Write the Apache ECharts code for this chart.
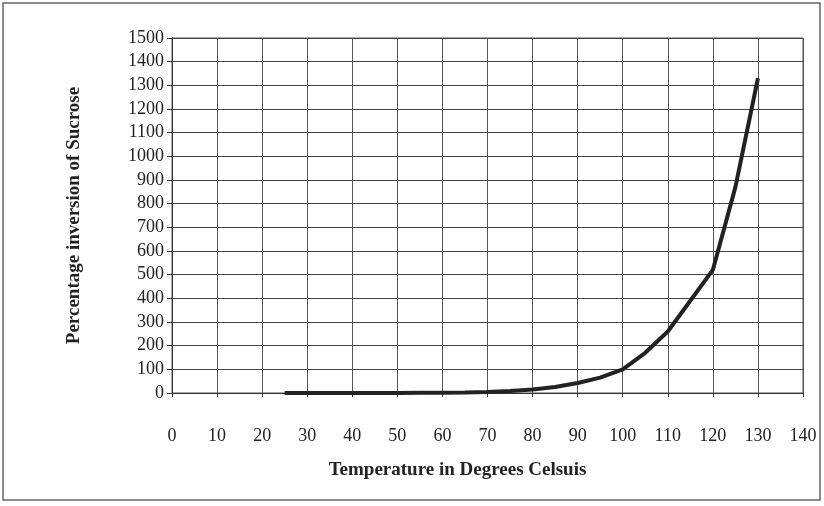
<!DOCTYPE html>
<html>
<head>
<meta charset="utf-8">
<script src="https://cdn.jsdelivr.net/npm/echarts@6/dist/echarts.min.js"></script>
<style>
  html, body { margin: 0; padding: 0; background: #fff; }
  #chart { width: 824px; height: 506px; }
</style>
</head>
<body>
<div id="chart"></div>
<script>
// temperature (deg C) and percentage inversion
const temps = [25, 30, 35, 40, 45, 50, 55, 60, 65, 70, 75, 80, 85, 90, 95, 100, 105, 110, 115, 120, 125, 130];
const inversion = [0, 0, 0, 0, 0, 0.5, 1, 1.5, 2.5, 4, 8, 15, 25, 42, 65, 100, 170, 260, 390, 520, 870, 1330];

const chart = echarts.init(document.getElementById('chart'));
const serif = 'Liberation Serif';

chart.setOption({
  animation: false,
  backgroundColor: '#fff',
  graphic: [{
    type: 'rect',
    shape: { x: 3, y: 3, width: 817, height: 497 },
    style: { fill: 'none', stroke: '#666', lineWidth: 1.5 },
    silent: true
  }],
  grid: { left: 172, right: 21, top: 38, bottom: 113, show: true, borderColor: '#555', borderWidth: 1 },
  xAxis: {
    type: 'value',
    min: 0, max: 140, interval: 10,
    name: 'Temperature in Degrees Celsuis',
    nameLocation: 'middle',
    nameGap: 68,
    nameTextStyle: { fontFamily: serif, fontSize: 19, fontWeight: 'bold', color: '#222', padding: [0, 60, 0, 0] },
    axisLine: { show: true, lineStyle: { color: '#333', width: 1 } },
    axisTick: { show: true, inside: false, length: 4, lineStyle: { color: '#333' } },
    axisLabel: { fontFamily: serif, fontSize: 18, color: '#222', margin: 34 },
    splitLine: { show: true, lineStyle: { color: '#555', width: 1 } }
  },
  yAxis: {
    type: 'value',
    min: 0, max: 1500, interval: 100,
    name: 'Percentage inversion of Sucrose',
    nameLocation: 'middle',
    nameGap: 88,
    nameTextStyle: { fontFamily: serif, fontSize: 19, fontWeight: 'bold', color: '#222' },
    axisLine: { show: true, lineStyle: { color: '#333', width: 1 } },
    axisTick: { show: true, length: 5, lineStyle: { color: '#333' } },
    axisLabel: { fontFamily: serif, fontSize: 18, color: '#222', margin: 8, formatter: v => String(v) },
    splitLine: { show: true, lineStyle: { color: '#444', width: 1 } }
  },
  series: [{
    type: 'line',
    data: temps.map((t, i) => [t, inversion[i]]),
    showSymbol: false,
    smooth: false,
    lineStyle: { color: '#222', width: 4 },
    z: 5
  }]
});
</script>
</body>
</html>
